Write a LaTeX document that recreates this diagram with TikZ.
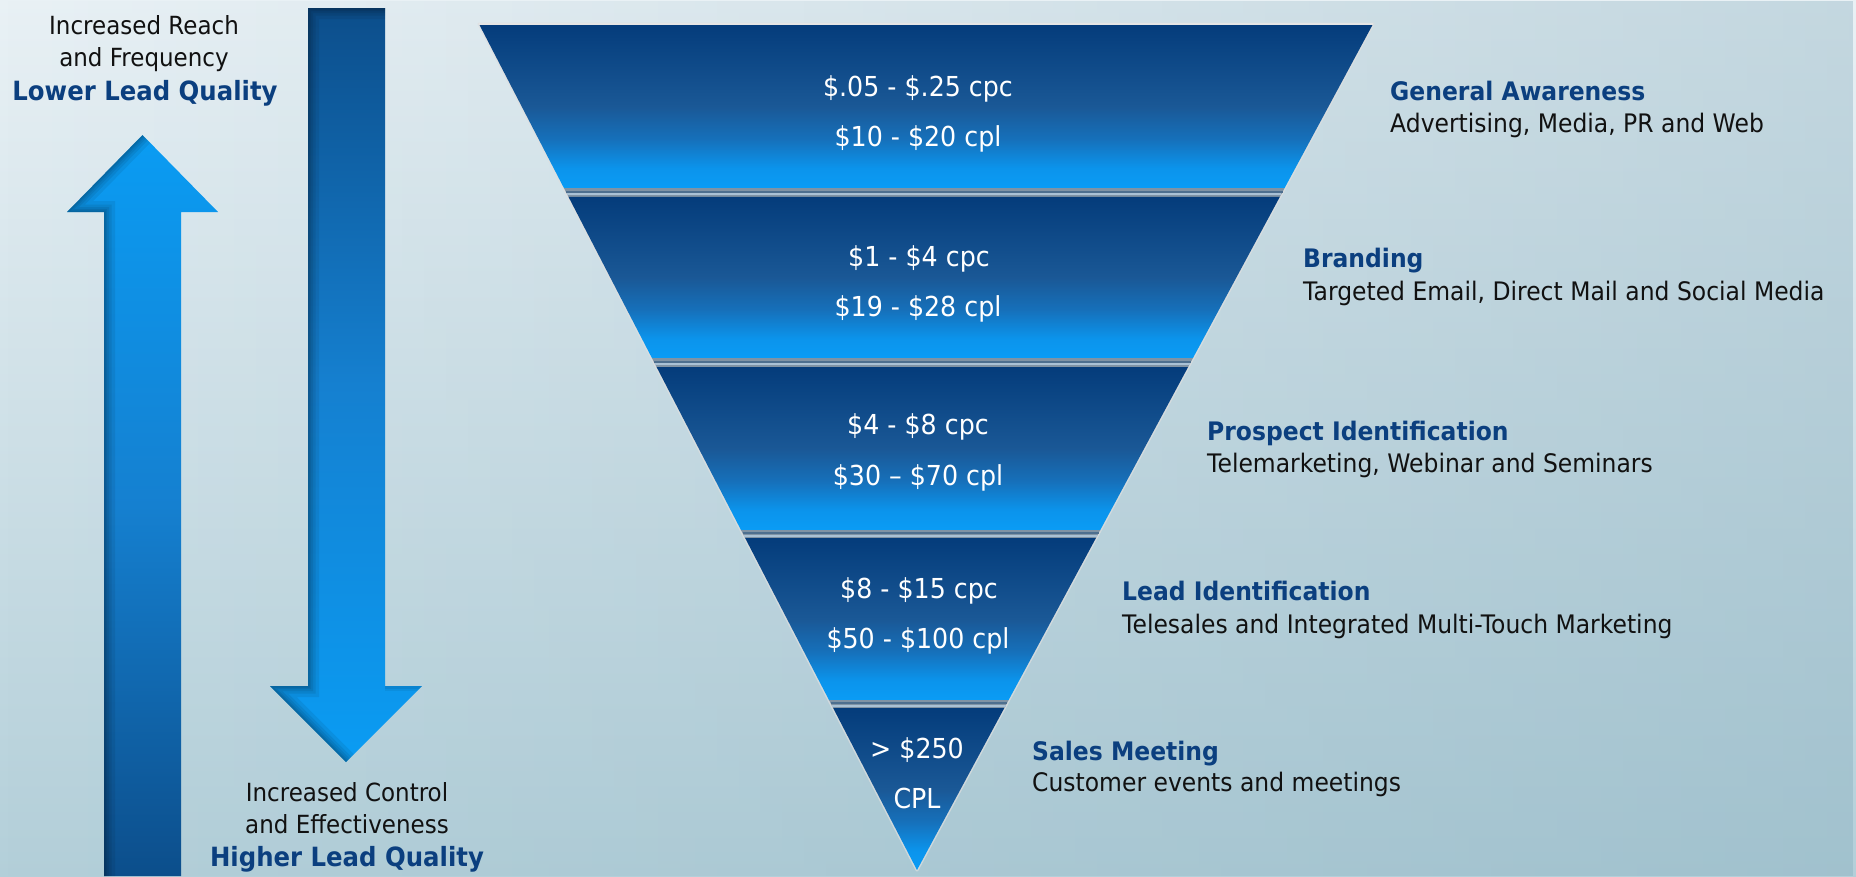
\documentclass[tikz,border=0pt]{standalone}
\usepackage{fontspec}
\setmainfont[FakeStretch=0.92]{DejaVu Sans}
\usetikzlibrary{calc,fadings}

\definecolor{bgTop}{HTML}{E9F1F5}
\definecolor{bgBot}{HTML}{B3CFD9}
\definecolor{bgTint}{HTML}{7FA8B9}
\definecolor{fNavy}{HTML}{043C7B}
\definecolor{fSteel}{HTML}{1A5896}
\definecolor{fMid}{HTML}{1670BA}
\definecolor{fBright}{HTML}{0B94EC}
\definecolor{fEdge}{HTML}{0A9CF5}
\definecolor{sepFill}{HTML}{7F93A5}
\definecolor{sepDark}{HTML}{4D6F8F}
\definecolor{sepLight}{HTML}{A9C1D5}
\definecolor{titleBlue}{HTML}{0B3F7F}
\definecolor{arrNavy}{HTML}{0C4E8B}
\definecolor{arrMid}{HTML}{1580D0}
\definecolor{arrBright}{HTML}{0A9CF3}
\definecolor{txtDark}{HTML}{111111}

% band gradient: stops between 25bp (bottom of path) and 75bp (top of path)
\pgfdeclareverticalshading{bandshade}{100bp}{%
  color(0bp)=(fEdge); color(25bp)=(fEdge); color(31bp)=(fBright);
  color(40bp)=(fMid); color(50bp)=(fSteel); color(75bp)=(fNavy); color(100bp)=(fNavy)}

\tikzfading[name=fadeR, left color=transparent!0, right color=transparent!100]
\tikzfading[name=fadeL, left color=transparent!100, right color=transparent!0]

\newcommand\funnelband[2]{%
  \shade[shading=bandshade]
    ($(TL)!#1!(AP)$) -- ($(TR)!#1!(AP)$) -- ($(TR)!#2!(AP)$) -- ($(TL)!#2!(AP)$) -- cycle;}
\newcommand\funnelsep[2]{%
  \fill[sepFill]
    ($(TL)!#1!(AP)$) -- ($(TR)!#1!(AP)$) -- ($(TR)!#2!(AP)$) -- ($(TL)!#2!(AP)$) -- cycle;
  \draw[sepDark, line width=2pt]
    ($(TL)!#1*0.6+#2*0.4!(AP)$) -- ($(TR)!#1*0.6+#2*0.4!(AP)$);
  \draw[sepLight, line width=2pt]
    ($(TL)!#1*0.3+#2*0.7!(AP)$) -- ($(TR)!#1*0.3+#2*0.7!(AP)$);}

% soft inner shadow along the given edge path, clipped to the shape
\newcommand\innershadow[2]{%
  \begin{scope}
    \clip #1;
    \foreach \w in {22,15,10,6,3}
      \draw[black, opacity=0.07, line width=\w pt, line join=miter] #2;
  \end{scope}}

\begin{document}
\begin{tikzpicture}[x=1pt,y=-1pt,
  lbl/.style={inner sep=0pt, text height=0.72em, text depth=0.2em, yshift=-6pt},
  sidetxt/.style={lbl, text=txtDark, font=\fontsize{25}{30}\selectfont},
  sidehead/.style={lbl, text=titleBlue, font=\fontsize{26.5}{30}\selectfont\bfseries},
  cost/.style={lbl, text=white, font=\fontsize{27.5}{32}\selectfont},
  stagehead/.style={lbl, anchor=west, text=titleBlue, font=\fontsize{25.5}{30}\selectfont\bfseries},
  stagetxt/.style={lbl, anchor=west, text=txtDark, font=\fontsize{25.5}{30}\selectfont}]

\useasboundingbox (0,0) rectangle (1856,876);

% backdrop
\shade[top color=bgTop, bottom color=bgBot] (0,0) rectangle (1856,876);
\fill[bgTint, opacity=0.35, path fading=fadeL] (0,0) rectangle (1856,876);

% ---- up arrow (long, left) ----
\shade[top color=arrBright, bottom color=arrNavy, middle color=arrMid]
  (104,876) -- (104,212) -- (67,212) -- (142.5,135) -- (218,212) -- (181,212) -- (181,876) -- cycle;
\innershadow{(104,876) -- (104,212) -- (67,212) -- (142.5,135) -- (218,212) -- (181,212) -- (181,876) -- cycle}
            {(104,890) -- (104,212) -- (67,212) -- (142.5,135)}

% ---- down arrow ----
\shade[top color=arrNavy, bottom color=arrBright, middle color=arrMid]
  (308,8) -- (385,8) -- (385,686) -- (422,686) -- (346,762) -- (270,686) -- (308,686) -- cycle;
\innershadow{(308,8) -- (385,8) -- (385,686) -- (422,686) -- (346,762) -- (270,686) -- (308,686) -- cycle}
            {(385,8) -- (308,8) -- (308,686) -- (270,686) -- (346,762)}
\begin{scope}
  \clip (308,8) -- (385,8) -- (385,686) -- (422,686) -- (346,762) -- (270,686) -- (308,686) -- cycle;
  \foreach \w in {10,5} \draw[black, opacity=0.06, line width=\w pt] (385,686) -- (422,686);
\end{scope}

% ---- funnel ----
\coordinate (TL) at (479,24);
\coordinate (TR) at (1373,24);
\coordinate (AP) at (917,870);

\draw[white!75!gray, opacity=0.7, line width=3pt, line join=round] (TL) -- (TR) -- (AP) -- cycle;

\funnelband{0}{0.19385}
\funnelsep{0.19385}{0.20449}
\funnelband{0.20449}{0.39480}
\funnelsep{0.39480}{0.40544}
\funnelband{0.40544}{0.59811}
\funnelsep{0.59811}{0.60757}
\funnelband{0.60757}{0.79905}
\funnelsep{0.79905}{0.80851}
\funnelband{0.80851}{1}
\draw[white!80!gray, line width=1.2pt] (TL) -- (TR);

% ---- costs inside the funnel ----
\node[cost] (c1a) at (918,88)  {\$.05 - \$.25 cpc};
\node[cost] (c1b) at (918,138) {\$10 - \$20 cpl};
\node[cost] (c2a) at (919,258) {\$1 - \$4 cpc};
\node[cost] (c2b) at (918,308) {\$19 - \$28 cpl};
\node[cost] (c3a) at (918,426) {\$4 - \$8 cpc};
\node[cost] (c3b) at (918,477) {\$30 – \$70 cpl};
\node[cost] (c4a) at (919,590) {\$8 - \$15 cpc};
\node[cost] (c4b) at (918,640) {\$50 - \$100 cpl};
\node[cost] (c5a) at (917,750) {> \$250};
\node[cost] (c5b) at (917,800) {CPL};

% ---- stage labels ----
\node[stagehead] (s1h) at (1390,92)  {General Awareness};
\node[stagetxt]  (s1t) at (1390,124) {Advertising, Media, PR and Web};
\node[stagehead] (s2h) at (1303,259) {Branding};
\node[stagetxt]  (s2t) at (1303,292) {Targeted Email, Direct Mail and Social Media};
\node[stagehead] (s3h) at (1207,432) {Prospect Identification};
\node[stagetxt]  (s3t) at (1207,464) {Telemarketing, Webinar and Seminars};
\node[stagehead] (s4h) at (1122,592) {Lead Identification};
\node[stagetxt]  (s4t) at (1122,625) {Telesales and Integrated Multi-Touch Marketing};
\node[stagehead] (s5h) at (1032,752) {Sales Meeting};
\node[stagetxt]  (s5t) at (1032,783) {Customer events and meetings};

% ---- side captions ----
\node[sidetxt]  (reach) at (144,26) {Increased Reach};
\node[sidetxt]  (freq)  at (144,58) {and Frequency};
\node[sidehead] (lowq)  at (145,92) {Lower Lead Quality};
\node[sidetxt]  (ctrl)  at (347,793) {Increased Control};
\node[sidetxt]  (effc)  at (347,825) {and Effectiveness};
\node[sidehead] (highq) at (347,858) {Higher Lead Quality};

\end{tikzpicture}
\end{document}
